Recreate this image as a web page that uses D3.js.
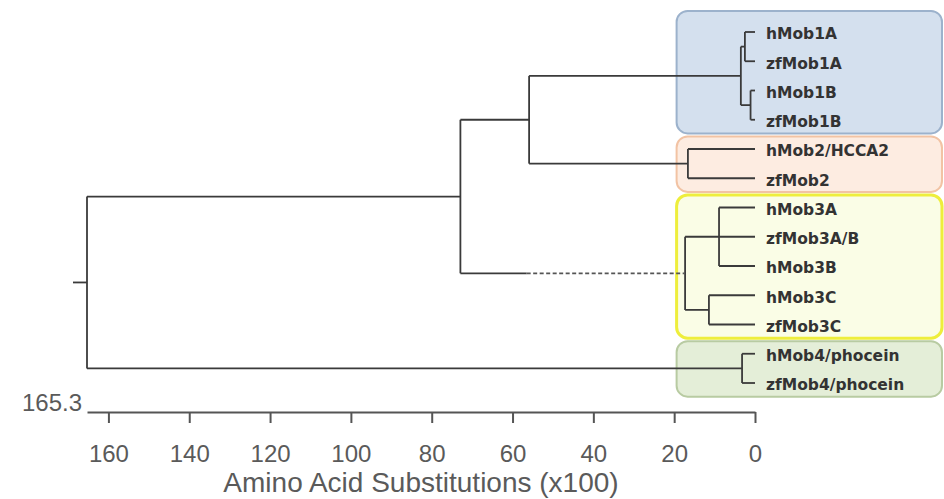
<!DOCTYPE html>
<html>
<head>
<meta charset="utf-8">
<script src="https://cdn.jsdelivr.net/npm/d3@7"></script>
<style>
  html, body { margin: 0; padding: 0; background: #fff; }
  svg { display: block; }
</style>
</head>
<body>
<svg id="chart" width="944" height="499"></svg>
<script>
// ---------- DATA ----------
const leaves = ["hMob1A", "zfMob1A", "hMob1B", "zfMob1B", "hMob2/HCCA2", "zfMob2",
  "hMob3A", "zfMob3A/B", "hMob3B", "hMob3C", "zfMob3C", "hMob4/phocein", "zfMob4/phocein"];

const nodeNames = ["root", "Mob123", "Mob12", "Mob1", "Mob1A", "Mob1B", "Mob2", "Mob3", "Mob3AB", "Mob3C", "Mob4"];
const nodeAges = [165.3, 72.9, 55.9, 3.5, 2.5, 1.1, 16.6, 17.3, 8.9, 11.4, 3.2];
const nodeChildren = [
  ["Mob123", "Mob4"],
  ["Mob12", "Mob3"],
  ["Mob1", "Mob2"],
  ["Mob1A", "Mob1B"],
  ["hMob1A", "zfMob1A"],
  ["hMob1B", "zfMob1B"],
  ["hMob2/HCCA2", "zfMob2"],
  ["Mob3AB", "Mob3C"],
  ["hMob3A", "zfMob3A/B", "hMob3B"],
  ["hMob3C", "zfMob3C"],
  ["hMob4/phocein", "zfMob4/phocein"]
];
// branch drawn dashed (uncertain) beyond this age
const dashedBranch = { node: "Mob3", solidUntil: 56.5 };

const groupNames = ["Mob1", "Mob2", "Mob3", "Mob4"];
const groupFirst = ["hMob1A", "hMob2/HCCA2", "hMob3A", "hMob4/phocein"];
const groupLast = ["zfMob1B", "zfMob2", "zfMob3C", "zfMob4/phocein"];
const groupFill = ["#d4e0ee", "#fdece1", "#fafde6", "#e4eed8"];
const groupStroke = ["#9cb2cc", "#f2c3a4", "#eeee3c", "#b8cba2"];

const tickValues = [160, 140, 120, 100, 80, 60, 40, 20, 0];
const axisTitle = "Amino Acid Substitutions (x100)";
const rootAge = 165.3;

// ---------- BUILD TREE ----------
const ageOf = {};
const kidsOf = {};
nodeNames.forEach((n, i) => { ageOf[n] = nodeAges[i]; kidsOf[n] = nodeChildren[i]; });
leaves.forEach(l => { ageOf[l] = 0; });
function build(name) {
  return { name, age: ageOf[name], children: kidsOf[name] ? kidsOf[name].map(build) : undefined };
}
const root = d3.hierarchy(build("root"));

// ---------- SCALES ----------
const svg = d3.select("#chart");
const x = d3.scaleLinear().domain([rootAge, 0]).range([87, 755]);
const y = d3.scalePoint().domain(leaves).range([32, 383]);
const step = y.step();

root.eachAfter(d => {
  if (!d.children) d.py = y(d.data.name);
  else d.py = (d.children[0].py + d.children[d.children.length - 1].py) / 2;
  d.px = x(d.data.age);
});

// ---------- GROUP BOXES ----------
const boxLeft = x(19.4), boxRight = 942;
groupNames.forEach((g, i) => {
  const top = i === 0 ? y(groupFirst[i]) - step * 0.72 : y(groupFirst[i]) - step / 2 + 2;
  const bottom = y(groupLast[i]) + step / 2 - 1;
  svg.append("rect")
    .attr("x", boxLeft).attr("y", top)
    .attr("width", boxRight - boxLeft).attr("height", bottom - top)
    .attr("rx", 11).attr("ry", 11)
    .attr("fill", groupFill[i])
    .attr("stroke", groupStroke[i])
    .attr("stroke-width", i === 2 ? 3 : 2);
});

// ---------- TREE LINES ----------
const g = svg.append("g").attr("fill", "none").attr("stroke", "#3a3a3a").attr("stroke-width", 1.8);
g.append("line").attr("x1", root.px - 14).attr("x2", root.px).attr("y1", root.py).attr("y2", root.py);
root.descendants().forEach(d => {
  if (d.children) {
    g.append("line")
      .attr("x1", d.px).attr("x2", d.px)
      .attr("y1", d.children[0].py).attr("y2", d.children[d.children.length - 1].py);
  }
  if (d.parent) {
    if (d.data.name === dashedBranch.node) {
      const xm = x(dashedBranch.solidUntil);
      g.append("line").attr("x1", d.parent.px).attr("x2", xm).attr("y1", d.py).attr("y2", d.py);
      g.append("line").attr("x1", xm).attr("x2", d.px).attr("y1", d.py).attr("y2", d.py)
        .attr("stroke", "#555").attr("stroke-dasharray", "4,2.5");
    } else {
      g.append("line").attr("x1", d.parent.px).attr("x2", d.px).attr("y1", d.py).attr("y2", d.py);
    }
  }
});

// ---------- LEAF LABELS ----------
svg.append("g").selectAll("text").data(root.leaves()).join("text")
  .attr("x", d => d.px + 11)
  .attr("y", d => d.py)
  .attr("dy", "0.48em")
  .attr("font-family", "DejaVu Sans, Verdana, sans-serif")
  .attr("font-weight", "bold")
  .attr("font-size", 15.5)
  .attr("fill", "#333")
  .text(d => d.data.name);

// ---------- AXIS ----------
const axisY = 412;
const axis = svg.append("g").attr("transform", `translate(0,${axisY})`)
  .call(d3.axisBottom(x).tickValues(tickValues).tickSize(11).tickSizeOuter(0).tickPadding(22).tickFormat(d3.format("d")));
axis.select(".domain").attr("stroke", "#555").attr("stroke-width", 2);
axis.selectAll(".tick line").attr("stroke", "#555").attr("stroke-width", 2);
axis.selectAll(".tick text")
  .attr("font-family", "Liberation Sans, Arial, sans-serif")
  .attr("font-size", 24).attr("fill", "#5a5a5a");

svg.append("text")
  .attr("x", x(rootAge) - 5).attr("y", axisY - 1)
  .attr("text-anchor", "end")
  .attr("font-family", "Liberation Sans, Arial, sans-serif")
  .attr("font-size", 24).attr("fill", "#5a5a5a")
  .text(rootAge);

svg.append("text")
  .attr("x", (x.range()[0] + x.range()[1]) / 2).attr("y", 492)
  .attr("text-anchor", "middle")
  .attr("font-family", "Liberation Sans, Arial, sans-serif")
  .attr("font-size", 28).attr("fill", "#5a5a5a")
  .text(axisTitle);
</script>
</body>
</html>
